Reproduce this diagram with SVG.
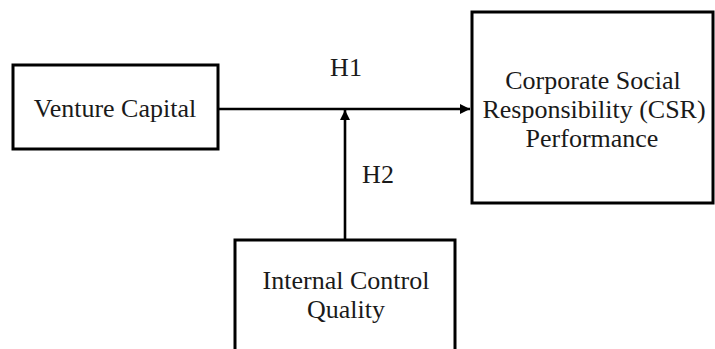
<svg xmlns="http://www.w3.org/2000/svg" width="715" height="349" viewBox="0 0 715 349">
<style>
.box{fill:#fff;stroke:#000;stroke-width:3}
.t{font-family:"Liberation Serif","Times New Roman",serif;font-size:26px;fill:#1a1a1a;text-anchor:middle}
.c{stroke:#000;stroke-width:2.6;fill:none}
</style>
<defs>
<marker id="ah" viewBox="0 0 10 10" refX="10" refY="5" markerWidth="4" markerHeight="4" markerUnits="strokeWidth" orient="auto">
<path d="M0,0 L10,5 L0,10 z" fill="#000"/>
</marker>
</defs>
<rect width="715" height="349" fill="#fff"/>
<g id="venture-capital">
<rect class="box" x="13" y="65" width="205" height="84"/>
<text class="t" x="115" y="117">Venture Capital</text>
</g>
<g id="csr">
<rect class="box" x="472" y="12" width="241" height="191"/>
<text class="t" x="593" y="89">Corporate Social</text>
<text class="t" x="594" y="118">Responsibility (CSR)</text>
<text class="t" x="592" y="147">Performance</text>
</g>
<g id="icq">
<rect class="box" x="235" y="240" width="220" height="115"/>
<text class="t" x="346" y="289">Internal Control</text>
<text class="t" x="346" y="318">Quality</text>
</g>
<g id="connectors">
<line class="c" x1="218" y1="109" x2="470" y2="109" marker-end="url(#ah)"/>
<line class="c" x1="345" y1="240" x2="345" y2="110" marker-end="url(#ah)"/>
<text class="t" x="346" y="76">H1</text>
<text class="t" x="378" y="183">H2</text>
</g>
</svg>
